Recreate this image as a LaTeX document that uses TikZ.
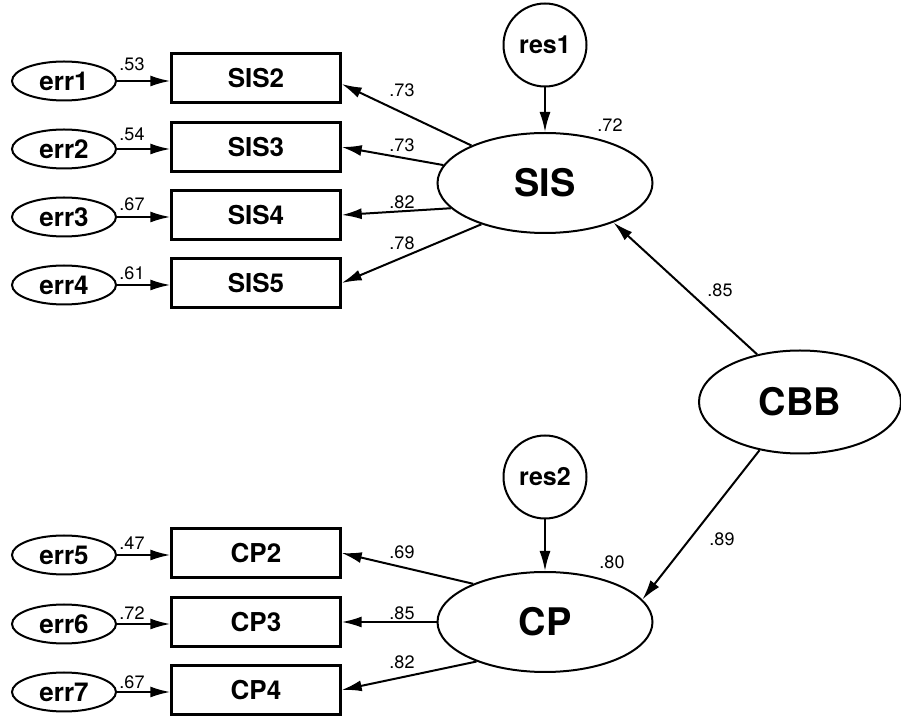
\documentclass[tikz,border=0pt]{standalone}
\usepackage{fontspec}
\setmainfont{TeX Gyre Heros}
\usetikzlibrary{shapes.geometric,arrows.meta}

\begin{document}
\begin{tikzpicture}
[x=0.5pt,y=-0.5pt,>={Latex[length=10pt,width=5.5pt]},
err/.style = {draw, ellipse, line width=1pt, minimum width=52pt, minimum height=19.5pt, inner sep=0pt, font=\bfseries\fontsize{13}{13}\selectfont},
obs/.style = {draw, rectangle, line width=1.2pt, minimum width=84.5pt, minimum height=24.5pt, inner sep=0pt, font=\bfseries\fontsize{13}{13}\selectfont},
lat/.style = {draw, ellipse, line width=1pt, minimum width=107.5pt, minimum height=50pt, inner sep=0pt, font=\bfseries\fontsize{19}{19}\selectfont},
res/.style = {draw, circle, line width=1pt, minimum size=41.5pt, inner sep=0pt, font=\bfseries\fontsize{12.5}{12.5}\selectfont},
coef/.style = {inner sep=0pt, font=\fontsize{9}{9}\selectfont},
arr/.style = {->, line width=1pt},]
\useasboundingbox (0,0) rectangle (901,716);

% latent variables
\node (SIS) at (545,183)[lat] {SIS};
\node (CP) at (545,622)[lat] {CP};
\node (CBB) at (800,402)[lat,minimum width=101pt,minimum height=51.5pt] {CBB};
\node (res1) at (545,45)[res] {res1};
\node (res2) at (545,477)[res] {res2};

% indicators and errors
\node (SIS2) at (256,78)[obs] {SIS2};
\node (SIS3) at (256,147)[obs] {SIS3};
\node (SIS4) at (256,215)[obs] {SIS4};
\node (SIS5) at (256,283)[obs] {SIS5};
\node (CP2) at (256,553)[obs] {CP2};
\node (CP3) at (256,622)[obs] {CP3};
\node (CP4) at (256,690)[obs] {CP4};
\node (err1) at (64,81)[err] {err1};
\node (err2) at (64,149)[err] {err2};
\node (err3) at (64,217)[err] {err3};
\node (err4) at (64,285)[err] {err4};
\node (err5) at (64,555)[err] {err5};
\node (err6) at (64,624)[err] {err6};
\node (err7) at (64,692)[err] {err7};

\draw[arr] (err1.east) -- (err1.east -| SIS2.west);
\draw[arr] (err2.east) -- (err2.east -| SIS3.west);
\draw[arr] (err3.east) -- (err3.east -| SIS4.west);
\draw[arr] (err4.east) -- (err4.east -| SIS5.west);
\draw[arr] (err5.east) -- (err5.east -| CP2.west);
\draw[arr] (err6.east) -- (err6.east -| CP3.west);
\draw[arr] (err7.east) -- (err7.east -| CP4.west);

\draw[arr] (SIS.153) -- (SIS2.-4);
\draw[arr] (SIS.170) -- (SIS3.east);
\draw[arr] (SIS.195) -- (SIS4.east);
\draw[arr] (SIS.213) -- (SIS5.east);
\draw[arr] (CP.152) -- (CP2.east);
\draw[arr] (CP.west) -- (CP3.east);
\draw[arr] (CP.210) -- (CP4.east);

\draw[arr] (res1) -- (SIS);
\draw[arr] (res2) -- (CP);
\draw[arr] (CBB.132) -- (SIS.-30);
\draw[arr] (CBB.-130) -- (CP.13);

% coefficients
\node (e1) at (132,64)[coef] {.53};
\node (e2) at (132,134)[coef] {.54};
\node (e3) at (132,204)[coef] {.67};
\node (e4) at (132,273)[coef] {.61};
\node (e5) at (132,543)[coef] {.47};
\node (e6) at (132,613)[coef] {.72};
\node (e7) at (132,682)[coef] {.67};
\node (l1) at (402,90)[coef] {.73};
\node (l2) at (402,145)[coef] {.73};
\node (l3) at (402,202)[coef] {.82};
\node (l4) at (402,243)[coef] {.78};
\node (l5) at (402,552)[coef] {.69};
\node (l6) at (402,613)[coef] {.85};
\node (l7) at (402,662)[coef] {.82};
\node (r1) at (610,125)[coef] {.72};
\node (r2) at (612,562)[coef] {.80};
\node (g1) at (720,290)[coef] {.85};
\node (g2) at (722,539)[coef] {.89};
\end{tikzpicture}
\end{document}
